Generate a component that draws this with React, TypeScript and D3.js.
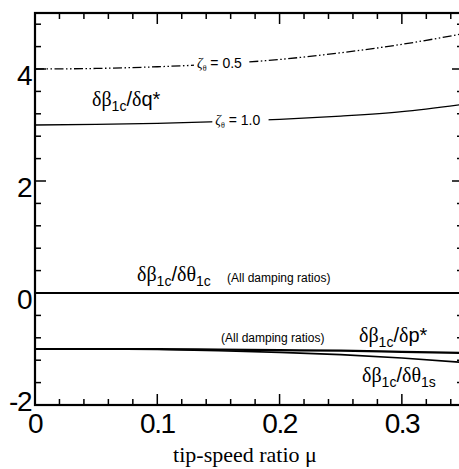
import React from "react";
import * as d3 from "d3";

const MU = [0, 0.05, 0.1, 0.15, 0.2, 0.25, 0.3, 0.35];
const Q_ZETA05 = [4.0, 4.01, 4.04, 4.09, 4.17, 4.29, 4.44, 4.63];
const Q_ZETA10 = [3.0, 3.01, 3.03, 3.06, 3.1, 3.16, 3.24, 3.37];
const THETA1C = [0, 0, 0, 0, 0, 0, 0, 0];
const P_STAR = [-1.0, -1.0, -1.0, -1.01, -1.02, -1.03, -1.05, -1.07];
const THETA1S = [-1.0, -1.0, -1.01, -1.03, -1.06, -1.1, -1.16, -1.24];

const X_MAJOR = [0, 0.1, 0.2, 0.3];
const X_MAJOR_LABELS = ["0", "0.1", "0.2", "0.3"];
const Y_MAJOR = [-2, 0, 2, 4];
const Y_MAJOR_LABELS = ["-2", "0", "2", "4"];

const SANS = "Arial, 'Liberation Sans', sans-serif";
const SERIF = "'Times New Roman', 'Liberation Serif', serif";

const W = 459;
const H = 469;
const L = 35;
const T = 13;
const B = 405;

export default function App() {
  const x = d3.scaleLinear().domain([0, 0.35]).range([L, L + 428]);
  const y = d3.scaleLinear().domain([-2, 5]).range([B, T]);
  const R = x(0.35);

  const line = (vals: number[]) =>
    d3
      .line<number>()
      .x((_, i) => x(MU[i]))
      .y((d) => y(d))
      .curve(d3.curveMonotoneX)(vals) || "";

  const xMinor = d3.range(0, 0.3501, 0.02).filter((v) => !X_MAJOR.some((m) => Math.abs(m - v) < 1e-6));
  const yMinor = d3.range(-2, 5.001, 0.4).filter((v) => !Y_MAJOR.some((m) => Math.abs(m - v) < 1e-6));

  const interp = (vals: number[], m: number) => {
    const f = d3.scaleLinear().domain(MU).range(vals);
    return f(m);
  };

  const zetaLabel = (vals: number[], m0: number, m1: number, txt: string) => {
    const yc = y(interp(vals, (m0 + m1) / 2));
    return (
      <g>
        <rect x={x(m0)} y={yc - 7} width={x(m1) - x(m0)} height={14} fill="white" />
        <text x={x(m0) + 3} y={yc + 4.5} fontSize={14} fontFamily={SANS} fill="#000">
          <tspan fontFamily={SERIF} fontStyle="italic" fill="#000">ζ</tspan>
          <tspan fontSize={8} dy={3} fontFamily={SERIF}>θ</tspan>
          <tspan dy={-3}>{txt}</tspan>
        </text>
      </g>
    );
  };

  const deriv = (xx: number, yy: number, den: string, denSans: boolean, sub2?: string) => (
    <text x={xx} y={yy} fontSize={20} fill="#000">
      <tspan fontFamily={SERIF}>δβ</tspan>
      <tspan fontFamily={SANS} fontSize={14} dy={5}>1c</tspan>
      <tspan fontFamily={SANS} dy={-5}>/</tspan>
      <tspan fontFamily={SERIF}>δ</tspan>
      <tspan fontFamily={denSans ? SANS : SERIF}>{den}</tspan>
      {sub2 ? (
        <tspan fontFamily={SANS} fontSize={14} dy={5}>{sub2}</tspan>
      ) : null}
    </text>
  );

  return (
    <svg
      width={W}
      height={H}
      style={{ position: "absolute", left: 0, top: 0, background: "white" }}
    >
      <rect x={0} y={0} width={W} height={H} fill="white" />

      {/* curves */}
      <path d={line(Q_ZETA05)} fill="none" stroke="#000" strokeWidth={1.3} strokeDasharray="9,2.5,1.5,2.5,1.5,2.5" />
      <path d={line(Q_ZETA10)} fill="none" stroke="#000" strokeWidth={1.3} />
      <path d={line(THETA1C)} fill="none" stroke="#000" strokeWidth={1.8} />
      <path d={line(P_STAR)} fill="none" stroke="#000" strokeWidth={2.2} />
      <path d={line(THETA1S)} fill="none" stroke="#000" strokeWidth={1.6} />

      {zetaLabel(Q_ZETA05, 0.13, 0.174, " = 0.5")}
      {zetaLabel(Q_ZETA10, 0.145, 0.191, " = 1.0")}

      {/* curve labels */}
      {deriv(92, 106, "q*", true)}
      {deriv(137, 281, "θ", false, "1c")}
      <text x={227} y={282} fontSize={12} fontFamily={SANS} fill="#000">(All damping ratios)</text>
      <text x={221} y={342} fontSize={12} fontFamily={SANS} fill="#000">(All damping ratios)</text>
      {deriv(359, 342, "p*", true)}
      {deriv(362, 382, "θ", false, "1s")}

      {/* ticks */}
      <g stroke="#000" strokeWidth={1.5}>
        {X_MAJOR.map((v) => (
          <g key={"xm" + v}>
            <line x1={x(v)} x2={x(v)} y1={B} y2={B - 11} />
            <line x1={x(v)} x2={x(v)} y1={T} y2={T + 11} />
          </g>
        ))}
        {xMinor.map((v) => (
          <g key={"xn" + v}>
            <line x1={x(v)} x2={x(v)} y1={B} y2={B - 6} />
            <line x1={x(v)} x2={x(v)} y1={T} y2={T + 6} />
          </g>
        ))}
        {Y_MAJOR.map((v) => (
          <g key={"ym" + v}>
            <line x1={L} x2={L + 11} y1={y(v)} y2={y(v)} />
            <line x1={R} x2={R - 11} y1={y(v)} y2={y(v)} />
          </g>
        ))}
        {yMinor.map((v) => (
          <g key={"yn" + v}>
            <line x1={L} x2={L + 6} y1={y(v)} y2={y(v)} />
            <line x1={R} x2={R - 6} y1={y(v)} y2={y(v)} />
          </g>
        ))}
      </g>

      {/* frame */}
      <rect x={L} y={T} width={R - L} height={B - T} fill="none" stroke="#000" strokeWidth={2.2} />

      {/* tick labels */}
      {X_MAJOR.map((v, i) => (
        <text key={"xl" + v} x={x(v)} y={433} textAnchor="middle" fontSize={28} fontFamily={SANS} letterSpacing={-1.5} fill="#000">
          {X_MAJOR_LABELS[i]}
        </text>
      ))}
      {Y_MAJOR.map((v, i) => (
        <text key={"yl" + v} x={31} y={y(v) + (i === 0 ? 6 : 16)} textAnchor="end" fontSize={28} fontFamily={SANS} letterSpacing={-1.5} fill="#000">
          {Y_MAJOR_LABELS[i]}
        </text>
      ))}

      <text x={245} y={462} textAnchor="middle" fontSize={22} fontFamily={SERIF} fill="#000">
        tip-speed ratio μ
      </text>
    </svg>
  );
}
